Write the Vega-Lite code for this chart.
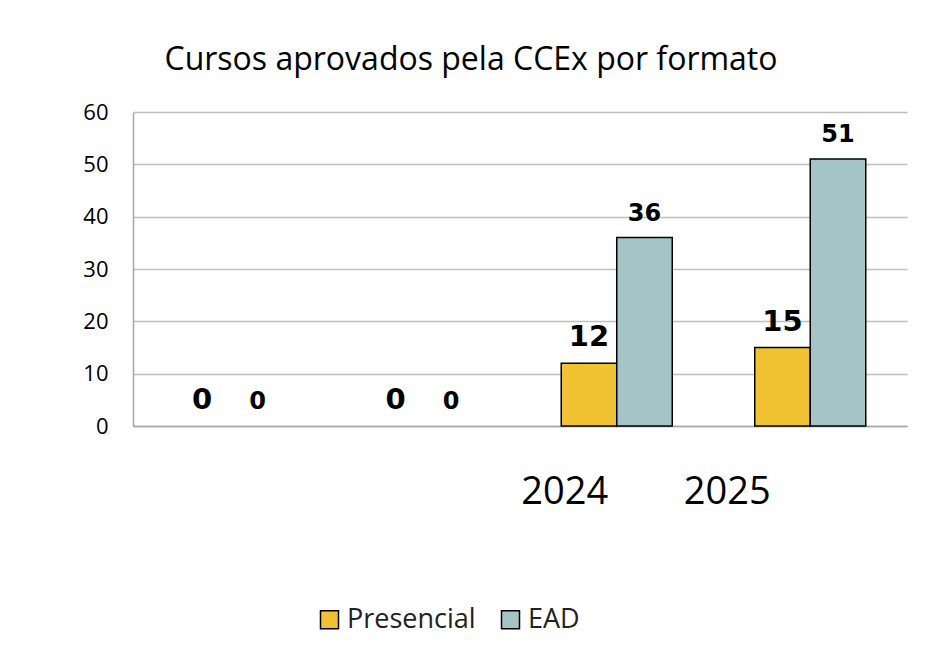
{
  "$schema": "https://vega.github.io/schema/vega-lite/v6.json",
  "width": 774,
  "height": 314,
  "autosize": {"type": "none"},
  "padding": {"left": 133, "top": 112, "right": 18, "bottom": 233},
  "background": "white",
  "config": {"view": {"stroke": null}},
  "title": {
    "text": "Cursos aprovados pela CCEx por formato",
    "font": "Open Sans",
    "fontSize": 32,
    "fontWeight": "normal",
    "color": "#000000",
    "anchor": "middle",
    "dx": -49,
    "offset": 24
  },
  "data": {
    "values": [
      {"ano": " ", "formato": "Presencial", "cursos": 0},
      {"ano": " ", "formato": "EAD", "cursos": 0},
      {"ano": "  ", "formato": "Presencial", "cursos": 0},
      {"ano": "  ", "formato": "EAD", "cursos": 0},
      {"ano": "2024", "formato": "Presencial", "cursos": 12},
      {"ano": "2024", "formato": "EAD", "cursos": 36},
      {"ano": "2025", "formato": "Presencial", "cursos": 15},
      {"ano": "2025", "formato": "EAD", "cursos": 51}
    ]
  },
  "encoding": {
    "x": {
      "field": "ano",
      "type": "nominal",
      "sort": null,
      "scale": {"paddingInner": 0, "paddingOuter": 0},
      "axis": {
        "title": null,
        "ticks": false,
        "tickSize": 0,
        "labelAngle": 0,
        "labelFont": "Open Sans",
        "labelFontSize": 38,
        "labelColor": "#000000",
        "labelBaseline": "alphabetic",
        "labelPadding": 77,
        "labelOffset": {"condition": {"test": "datum.value == '2025'", "value": -83}, "value": -52},
        "domainColor": "#a6a6a6",
        "domainWidth": 1.5
      }
    },
    "xOffset": {
      "field": "formato",
      "type": "nominal",
      "sort": ["Presencial", "EAD"],
      "scale": {"domain": ["Presencial", "EAD"], "paddingInner": 0, "paddingOuter": 0.743}
    },
    "y": {
      "field": "cursos",
      "type": "quantitative",
      "scale": {"domain": [0, 60], "nice": false},
      "axis": {
        "title": null,
        "values": [0, 10, 20, 30, 40, 50, 60],
        "ticks": false,
        "tickSize": 0,
        "labelFont": "Open Sans",
        "labelFontSize": 22,
        "labelColor": "#000000",
        "labelPadding": 25,
        "domainColor": "#a6a6a6",
        "domainWidth": 1.5,
        "grid": true,
        "gridColor": "#bfbfbf",
        "gridWidth": 1.5
      }
    }
  },
  "layer": [
    {
      "mark": {"type": "bar", "stroke": "#000000", "strokeWidth": 1.5},
      "encoding": {
        "color": {
          "field": "formato",
          "type": "nominal",
          "sort": ["Presencial", "EAD"],
          "scale": {"domain": ["Presencial", "EAD"], "range": ["#f1c232", "#a5c4c8"]},
          "legend": {
            "title": null,
            "orient": "none",
            "direction": "horizontal",
            "legendX": 183,
            "legendY": 494,
            "padding": 0,
            "symbolType": "square",
            "symbolSize": 324,
            "symbolStrokeColor": "#000000",
            "symbolStrokeWidth": 1.5,
            "symbolOpacity": 1,
            "labelFont": "Open Sans",
            "labelFontSize": 27,
            "labelColor": "#222222",
            "labelOffset": 4,
            "columnPadding": 21
          }
        },
        "strokeOpacity": {"condition": {"test": "datum.cursos == 0", "value": 0}, "value": 1}
      }
    },
    {
      "transform": [{"filter": "datum.formato == 'Presencial'"}],
      "mark": {"type": "text", "font": "DejaVu Sans", "fontWeight": "bold", "fontSize": 29, "baseline": "alphabetic", "dy": -17, "color": "#000000"},
      "encoding": {
        "text": {"field": "cursos", "type": "quantitative"}
      }
    },
    {
      "transform": [{"filter": "datum.formato == 'EAD'"}],
      "mark": {"type": "text", "font": "DejaVu Sans", "fontWeight": "bold", "fontSize": 24, "baseline": "alphabetic", "dy": -17, "color": "#000000"},
      "encoding": {
        "text": {"field": "cursos", "type": "quantitative"}
      }
    }
  ]
}
